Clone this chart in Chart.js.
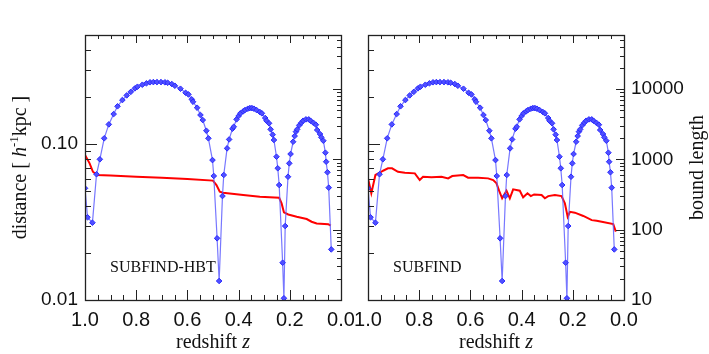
<!DOCTYPE html>
<html><head><meta charset="utf-8">
<script src="https://cdn.jsdelivr.net/npm/chart.js@4"></script>
<style>
html,body{margin:0;padding:0;background:#fff;width:709px;height:354px;overflow:hidden}
canvas{position:absolute;left:0;top:0}
</style></head><body>
<canvas id="c1" width="709" height="354"></canvas>
<canvas id="c2" width="709" height="354"></canvas>
<script>
// ---- data ----
const zTicks = [0, 0.2, 0.4, 0.6, 0.8, 1.0];
const distTicks = [0.01, 0.1];
const boundTicks = [10, 100, 1000, 10000];

const zBlue = [1.000, 0.990, 0.971, 0.955, 0.942, 0.925, 0.907, 0.888, 0.873, 0.854, 0.837, 0.821, 0.805, 0.795, 0.776, 0.760, 0.746, 0.733, 0.719, 0.703, 0.688, 0.677, 0.661, 0.649, 0.627, 0.607, 0.596, 0.583, 0.578, 0.562, 0.549, 0.540, 0.526, 0.518, 0.502, 0.497, 0.484, 0.476, 0.463, 0.458, 0.445, 0.437, 0.424, 0.419, 0.408, 0.400, 0.393, 0.382, 0.375, 0.364, 0.356, 0.348, 0.340, 0.330, 0.317, 0.309, 0.296, 0.291, 0.281, 0.275, 0.267, 0.262, 0.252, 0.247, 0.2415, 0.228, 0.223, 0.218, 0.207, 0.202, 0.197, 0.187, 0.181, 0.176, 0.171, 0.163, 0.155, 0.148, 0.137, 0.126, 0.119, 0.108, 0.098, 0.093, 0.082, 0.077, 0.069, 0.061, 0.058, 0.053, 0.048, 0.038];
const distance = [0.052, 0.0339, 0.0313, 0.064, 0.0798, 0.1088, 0.1336, 0.1556, 0.1745, 0.1914, 0.205, 0.216, 0.2275, 0.233, 0.240, 0.245, 0.2487, 0.2495, 0.2495, 0.2495, 0.2487, 0.247, 0.2426, 0.2364, 0.2262, 0.213, 0.208, 0.1934, 0.1866, 0.1709, 0.1535, 0.1425, 0.1217, 0.1088, 0.0789, 0.0624, 0.02486, 0.01324, 0.0464, 0.0633, 0.0938, 0.107, 0.1253, 0.129, 0.1439, 0.1512, 0.1573, 0.162, 0.1652, 0.1684, 0.170, 0.170, 0.1684, 0.1652, 0.1604, 0.1573, 0.1468, 0.141, 0.1358, 0.1242, 0.1148, 0.1061, 0.0829, 0.0699, 0.0546, 0.01734, 0.01026, 0.0298, 0.0617, 0.0752, 0.0863, 0.1034, 0.1125, 0.120, 0.1242, 0.1318, 0.1369, 0.141, 0.1439, 0.1439, 0.141, 0.1369, 0.133, 0.123, 0.1159, 0.1104, 0.105, 0.088, 0.077, 0.0659, 0.0525, 0.0211];

const zBoundHBT = [1.0, 0.982, 0.969, 0.954, 0.9, 0.8, 0.7, 0.6, 0.5, 0.4865, 0.4736, 0.461, 0.382, 0.317, 0.2415, 0.232, 0.223, 0.206, 0.173, 0.134, 0.115, 0.095, 0.05, 0.04];
const boundHBT = [1155, 880, 668, 600, 590, 568, 548, 526, 500, 432, 347, 336, 311, 295, 285, 237, 177, 165, 153, 142, 130, 123, 120, 114];

const zBoundSF = [1.0, 0.987, 0.971, 0.954, 0.941, 0.922, 0.906, 0.883, 0.856, 0.817, 0.798, 0.785, 0.752, 0.713, 0.687, 0.671, 0.628, 0.609, 0.570, 0.531, 0.511, 0.498, 0.488, 0.476, 0.459, 0.446, 0.433, 0.407, 0.394, 0.377, 0.364, 0.351, 0.322, 0.309, 0.296, 0.270, 0.244, 0.231, 0.220, 0.211, 0.192, 0.159, 0.126, 0.107, 0.087, 0.042, 0.032];
const boundSF = [538, 330, 600, 647, 691, 747, 747, 668, 647, 634, 509, 567, 556, 567, 538, 580, 600, 550, 550, 538, 509, 457, 360, 280, 359, 280, 376, 359, 289, 330, 301, 318, 312, 280, 301, 312, 301, 237, 153, 180, 175, 157, 137, 134, 130, 120.5, 94];

// ---- styling ----
const SERIF = '"Liberation Serif","Times New Roman",serif';
const SANS = '"Liberation Sans",Arial,Helvetica,sans-serif';
const pts = (xs, ys) => xs.map((x, i) => ({x: x, y: ys[i]}));

function logVals(mn, mx) {
  const maj = [], mnr = [];
  for (let e = Math.floor(Math.log10(mn)) - 1; e <= Math.ceil(Math.log10(mx)); e++) {
    for (let m = 1; m < 10; m++) {
      const v = m * Math.pow(10, e);
      if (v < mn * 0.999 || v > mx * 1.001) continue;
      (m === 1 ? maj : mnr).push(v);
    }
  }
  return {maj, mnr};
}

function richText(ctx, segs, x, y, align) {
  let w = 0;
  segs.forEach(s => { ctx.font = s.f; s.w = ctx.measureText(s.t).width; w += s.w; });
  let cx = align === 'center' ? x - w / 2 : x;
  ctx.textAlign = 'left'; ctx.textBaseline = 'alphabetic';
  segs.forEach(s => { ctx.font = s.f; ctx.fillText(s.t, cx, y + (s.dy || 0)); cx += s.w; });
}

const framePlugin = {
  id: 'framePlugin',
  afterDatasetsDraw(chart, args, o) {
    const {ctx, chartArea: a, scales} = chart;
    ctx.save();
    ctx.strokeStyle = '#222';
    ctx.lineWidth = 1;
    const ln = (x1, y1, x2, y2) => { ctx.beginPath(); ctx.moveTo(x1, y1); ctx.lineTo(x2, y2); ctx.stroke(); };
    const xs = scales.x;
    for (let i = 0; i <= 20; i++) {
      const v = i * 0.05, px = Math.round(xs.getPixelForValue(v)) + 0.5, mj = i % 4 === 0;
      ln(px, a.bottom, px, a.bottom - (mj ? 10 : 5));
      ln(px, a.top, px, a.top + (mj ? 8 : 4));
    }
    const ys = scales.y, lv = logVals(ys.min, ys.max);
    lv.maj.forEach(v => { const py = Math.round(ys.getPixelForValue(v)) + 0.5; ln(a.left, py, a.left + 12, py); });
    lv.mnr.forEach(v => { const py = Math.round(ys.getPixelForValue(v)) + 0.5; ln(a.left, py, a.left + 6, py); });
    const y2 = scales.y2, rv = logVals(y2.min, y2.max);
    rv.maj.forEach(v => { const py = Math.round(y2.getPixelForValue(v)) + 0.5; ln(a.right, py, a.right - 8, py); });
    rv.mnr.forEach(v => { const py = Math.round(y2.getPixelForValue(v)) + 0.5; ln(a.right, py, a.right - 4, py); });
    ctx.lineWidth = 1.3;
    ctx.strokeRect(a.left + 0.5, a.top + 0.5, a.right - a.left, a.bottom - a.top);
    ctx.restore();
  },
  afterDraw(chart, args, o) {
    const {ctx, chartArea: a} = chart;
    ctx.save();
    ctx.fillStyle = '#111';
    const cx = (a.left + a.right) / 2;
    richText(ctx, [{t: 'redshift ', f: '20px ' + SERIF}, {t: 'z', f: 'italic 20px ' + SERIF}], cx, 348, 'center');
    ctx.font = '16px ' + SERIF; ctx.textAlign = 'left'; ctx.textBaseline = 'alphabetic';
    ctx.fillText(o.label, a.left + 25, 271.5);
    const cy = (a.top + a.bottom) / 2;
    if (o.leftTitle) {
      ctx.save(); ctx.translate(25.5, cy); ctx.rotate(-Math.PI / 2);
      richText(ctx, [{t: 'distance [ ', f: '20px ' + SERIF}, {t: 'h', f: 'italic 20px ' + SERIF}, {t: '-1', f: '13px ' + SERIF, dy: -8}, {t: 'kpc ]', f: '20px ' + SERIF}], 0, 0, 'center');
      ctx.restore();
    }
    if (o.rightTitle) {
      ctx.save(); ctx.translate(703, cy); ctx.rotate(-Math.PI / 2);
      richText(ctx, [{t: 'bound length', f: '20px ' + SERIF}], 0, 0, 'center');
      ctx.restore();
    }
    ctx.restore();
  }
};

function makeChart(id, zB, bB, label, leftSide) {
  const blue = {
    data: pts(zBlue, distance), yAxisID: 'y', showLine: true,
    borderColor: 'rgba(95,95,255,0.85)', borderWidth: 1.2,
    pointStyle: 'rectRot', pointRadius: 2.8, pointBackgroundColor: '#5050ff',
    pointBorderColor: '#2a2aff', pointBorderWidth: 1, tension: 0
  };
  const red = {
    data: pts(zB, bB), yAxisID: 'y2', showLine: true,
    borderColor: '#ff0000', borderWidth: 2, pointRadius: 0, tension: 0
  };
  const tickFontY = {family: SANS, size: 19};
  return new Chart(document.getElementById(id), {
    type: 'scatter',
    data: {datasets: [blue, red]},
    plugins: [framePlugin],
    options: {
      responsive: false, animation: false, devicePixelRatio: 1,
      layout: {padding: leftSide ? {left: 0, right: 368, top: 35, bottom: 0} : {left: 368, right: 0, top: 35, bottom: 0}},
      plugins: {legend: {display: false}, tooltip: {enabled: false},
        framePlugin: {label: label, leftTitle: leftSide, rightTitle: !leftSide}},
      scales: {
        x: {
          type: 'linear', min: 0, max: 1, reverse: true,
          grid: {display: false}, border: {display: false},
          afterBuildTicks: s => { s.ticks = zTicks.map(v => ({value: v})); },
          ticks: {autoSkip: false, maxRotation: 0, padding: 0, color: '#111',
            font: {family: SANS, size: 20}, callback: v => Number(v).toFixed(1)},
          afterFit: s => { s.height = 54; }
        },
        y: {
          type: 'logarithmic', position: 'left', min: 0.01, max: 0.5, display: leftSide,
          grid: {display: false, drawTicks: false}, border: {display: false},
          afterBuildTicks: s => { s.ticks = distTicks.map(v => ({value: v})); },
          ticks: {autoSkip: false, padding: 7, color: '#111', font: tickFontY,
            callback: v => Number(v).toFixed(2)},
          afterFit: s => { s.width = leftSide ? 85 : 0; }
        },
        y2: {
          type: 'logarithmic', position: 'right', min: 10, max: 59000, display: !leftSide,
          grid: {display: false, drawTicks: false}, border: {display: false},
          afterBuildTicks: s => { s.ticks = boundTicks.map(v => ({value: v})); },
          ticks: {autoSkip: false, padding: 7, color: '#111', font: tickFontY,
            callback: v => String(Math.round(v))},
          afterFit: s => { s.width = leftSide ? 0 : 85; }
        }
      }
    }
  });
}

makeChart('c1', zBoundHBT, boundHBT, 'SUBFIND-HBT', true);
makeChart('c2', zBoundSF, boundSF, 'SUBFIND', false);
</script>
</body></html>
